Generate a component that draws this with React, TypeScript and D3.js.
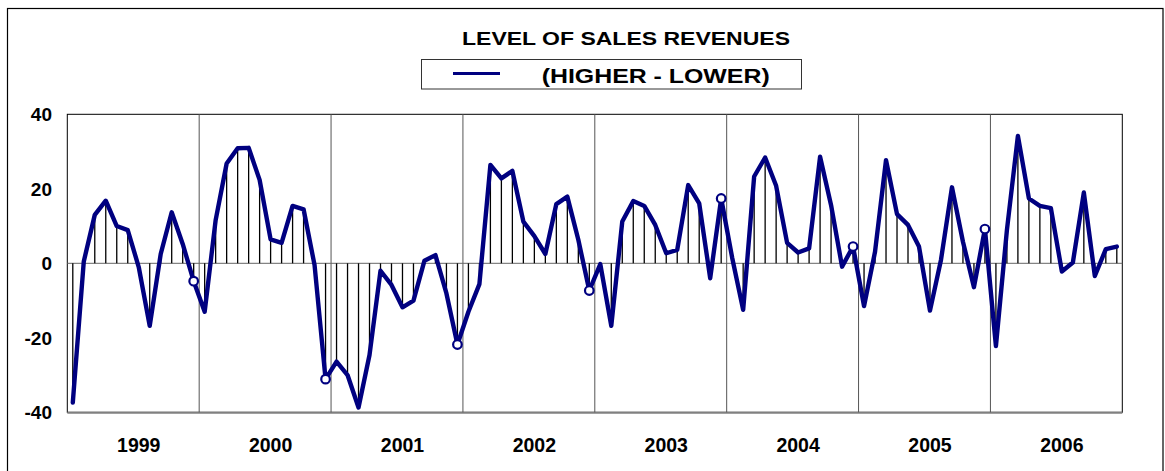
import * as d3 from "d3"

const years = ["1999", "2000", "2001", "2002", "2003", "2004", "2005", "2006"]

// monthly balance, higher minus lower
const v1999 = [-37.4, 0.5, 13.0, 16.8, 10.0, 8.9, -1.0, -16.8, 2.5, 13.7, 5.2, -4.8]
const v2000 = [-13.0, 11.6, 26.8, 30.9, 31.0, 22.4, 6.4, 5.5, 15.4, 14.5, -0.5, -31.1]
const v2001 = [-26.4, -30.0, -38.7, -24.6, -2.0, -5.8, -11.8, -10.0, 0.7, 2.2, -8.1, -21.8]
const v2002 = [-13.0, -5.6, 26.4, 22.8, 24.8, 11.2, 7.3, 2.5, 15.9, 17.9, 6.3, -7.3]
const v2003 = [-0.2, -16.8, 11.2, 16.7, 15.4, 10.3, 2.7, 3.6, 21.0, 16.1, -4.0, 17.4]
const v2004 = [1.5, -12.5, 23.3, 28.4, 20.8, 5.5, 2.9, 4.0, 28.6, 15.6, -0.9, 4.5]
const v2005 = [-11.5, 3.1, 27.7, 13.2, 10.3, 4.5, -12.7, 0.9, 20.4, 5.8, -6.4, 9.2]
const v2006 = [-22.2, 8.9, 34.2, 17.4, 15.4, 14.8, -2.2, 0.2, 19.0, -3.4, 3.8, 4.5]

const values = [...v1999, ...v2000, ...v2001, ...v2002, ...v2003, ...v2004, ...v2005, ...v2006]

// months drawn with an open circle (December of each year)
const markedMonths = [11, 23, 35, 47, 59, 71, 83]

const yTicks = [40, 20, 0, -20, -40]

const title = "LEVEL OF SALES REVENUES"
const seriesName = "(HIGHER - LOWER)"

const W = 1165
const H = 471
const plot = { left: 67.3, right: 1122.3, top: 114.3, bottom: 412.3 }
const navy = "#000080"
const font = "Arial, 'Liberation Sans', Helvetica, sans-serif"

export default function App() {
  const x = d3.scaleLinear().domain([0, values.length]).range([plot.left, plot.right])
  const y = d3.scaleLinear().domain([-40, 40]).range([plot.bottom, plot.top])
  const yearBand = d3.scaleBand().domain(years).range([plot.left, plot.right])

  const line = d3
    .line<number>()
    .x((d, i) => x(i + 0.5))
    .y((d) => y(d))

  return (
    <div>
      <style>{"body{margin:0}"}</style>
      <svg width={W} height={H} style={{ display: "block", fontFamily: font }}>
        <rect x={0} y={0} width={W} height={H} fill="#fff" />
        <rect x={7.5} y={8.5} width={1155.5} height={480} fill="none" stroke="#000" strokeWidth={1.2} />

        <text x={626} y={45} textAnchor="middle" fontSize={18.5} fontWeight="bold" textLength={328} lengthAdjust="spacingAndGlyphs">
          {title}
        </text>

        {/* legend */}
        <rect x={421.5} y={59.5} width={380} height={29.5} fill="#fff" stroke="#333" strokeWidth={1} />
        <line x1={453} x2={500} y1={73.5} y2={73.5} stroke={navy} strokeWidth={3} />
        <text x={541.7} y={83} fontSize={20} fontWeight="bold" textLength={228} lengthAdjust="spacingAndGlyphs">
          {seriesName}
        </text>

        {/* plot frame */}
        <rect x={plot.left} y={plot.top} width={plot.right - plot.left} height={plot.bottom - plot.top} fill="#fff" stroke="#000" strokeWidth={1} />
        <line x1={plot.left} x2={plot.right} y1={plot.bottom + 0.5} y2={plot.bottom + 0.5} stroke="#808080" strokeWidth={2} />

        {years.slice(1).map((yr) => (
          <line key={yr} x1={yearBand(yr)} x2={yearBand(yr)} y1={plot.top} y2={plot.bottom} stroke="#555" strokeWidth={1} />
        ))}

        <line x1={plot.left} x2={plot.right} y1={y(0)} y2={y(0)} stroke="#666" strokeWidth={1} />

        {/* drop lines */}
        {values.map((v, i) => (
          <line key={i} x1={x(i + 0.5)} x2={x(i + 0.5)} y1={y(0)} y2={y(v)} stroke="#000" strokeWidth={1.3} />
        ))}

        <path d={line(values) ?? ""} fill="none" stroke={navy} strokeWidth={4.4} strokeLinejoin="round" strokeLinecap="round" />

        {markedMonths.map((i) => (
          <circle key={i} cx={x(i + 0.5)} cy={y(values[i])} r={4.3} fill="#fff" stroke={navy} strokeWidth={2.2} />
        ))}

        {yTicks.map((t) => (
          <text key={t} x={52} y={y(t)} dy="0.36em" textAnchor="end" fontSize={19} fontWeight="bold">
            {t}
          </text>
        ))}

        {years.map((yr) => (
          <text key={yr} x={(yearBand(yr) ?? 0) + yearBand.bandwidth() / 2 + 5.5} y={451.5} textAnchor="middle" fontSize={19.5} fontWeight="bold">
            {yr}
          </text>
        ))}
      </svg>
    </div>
  )
}
